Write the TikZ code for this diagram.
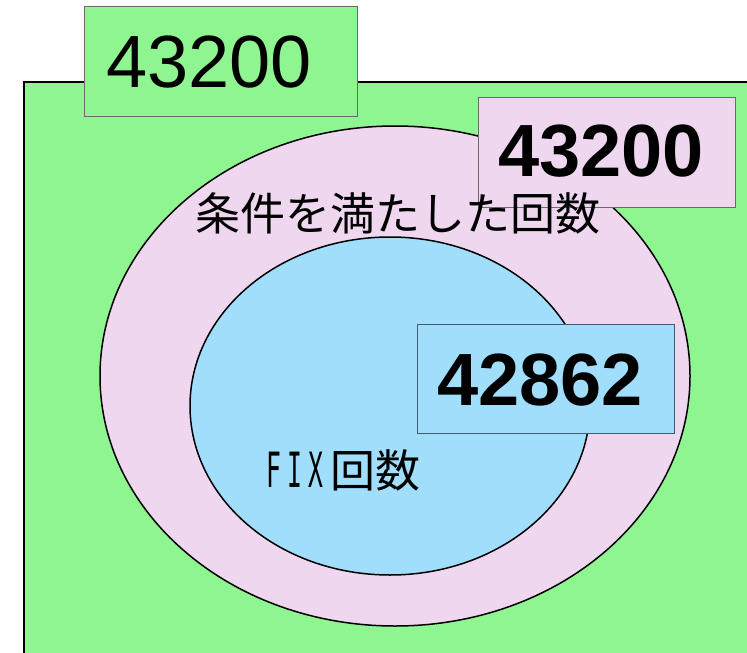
\documentclass[tikz,border=0pt]{standalone}
\usepackage{fontspec}
\setmainfont{Liberation Sans}
\newfontfamily\jpfont{Noto Sans CJK JP}
\newfontfamily\monofont{DejaVu Sans Mono}
\usetikzlibrary{calc}
\definecolor{bggreen}{HTML}{8EF591}
\definecolor{lpink}{HTML}{F0D7F0}
\definecolor{lblue}{HTML}{A1DEFB}
\definecolor{boxline}{HTML}{6A6A6A}
\definecolor{bboxline}{HTML}{405C70}
\newcommand{\halfw}[1]{\makebox[21pt]{\scalebox{0.55}[1.08]{#1}}}
\tikzset{
  numbox/.style={draw=boxline, line width=0.8pt, rectangle, anchor=north west, inner sep=0pt},
  bignum/.style={font=\fontsize{74}{80}\selectfont, inner sep=0pt},
  bigbold/.style={font=\fontsize{74}{80}\selectfont\bfseries, inner sep=0pt},
  jplabel/.style={font=\fontsize{45}{50}\selectfont\jpfont, inner sep=0pt}
}
\begin{document}
\begin{tikzpicture}[x=1pt,y=-1pt]
\useasboundingbox (0,0) rectangle (747,653);
% outer green area
\fill[bggreen] (24,82) rectangle (748,654);
\draw[line width=2pt] (24,654) -- (24,82) -- (748,82);
\coordinate (corner) at (24,82);
% top-left box
\node[numbox, fill=bggreen, minimum width=273pt, minimum height=110pt] (b1) at (84,6) {};
\node[bignum] (n1) at ($(b1.center)+(-12,1)$) {43200};
% ellipses
\draw[fill=lpink, line width=1.5pt] (395,376) ellipse [x radius=295, y radius=250];
\coordinate (pinkc) at (395,376);
\draw[fill=lblue, line width=1.5pt] (390,406) ellipse [x radius=200, y radius=169];
\coordinate (bluec) at (390,406);
% pink box
\node[numbox, fill=lpink, minimum width=257pt, minimum height=110pt] (b2) at (478,97) {};
\node[bigbold] (n2) at ($(b2.center)+(-6,-1)$) {43200};
% blue box
\node[numbox, draw=bboxline, fill=lblue, minimum width=257pt, minimum height=109pt] (b3) at (417,324) {};
\node[bigbold] (n3) at ($(b3.center)+(-6,1)$) {42862};
% labels
\node[jplabel] (t1) at (398,213) {条件を満たした回数};
\node[jplabel] (t2) at (342,470) {{\monofont\halfw{F}\halfw{I}\halfw{X}}\hspace{4pt}回数};
\end{tikzpicture}
\end{document}
